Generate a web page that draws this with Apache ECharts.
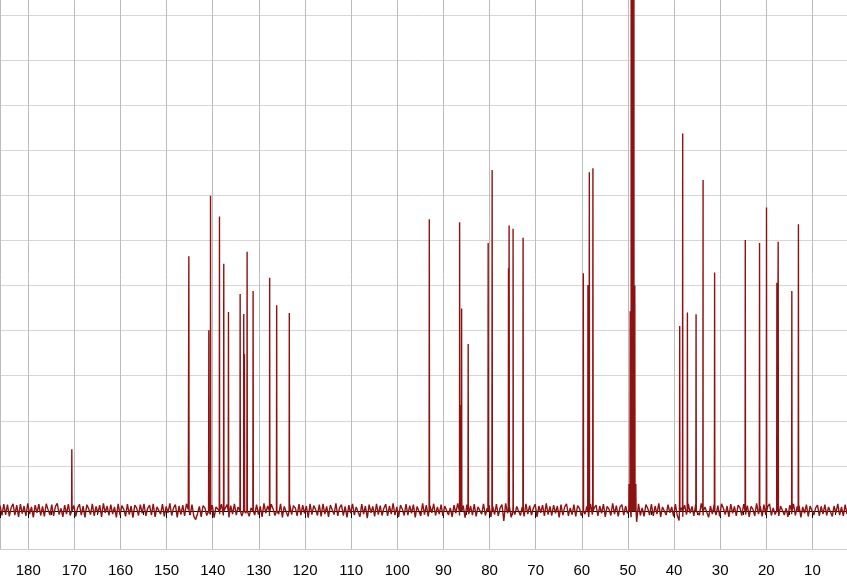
<!DOCTYPE html>
<html><head><meta charset="utf-8">
<script src="https://cdn.jsdelivr.net/npm/echarts@6/dist/echarts.min.js"></script>
<style>html,body{margin:0;padding:0;background:#fff}#c{width:847px;height:579px}</style>
</head><body><div id="c"></div>
<script>
// chemical shift axis (ppm), reversed
const ppmStart = 186.12;
const ppmEnd = 2.5;
const noiseStartPpm = 186.1;
const noiseStepPpm = 0.4;
const noise = [
.12,-.10,.15,-.08,.14,-.12,.07,.16,-.09,.13,-.13,.15,-.06,.11,-.11,.17,-.07,.09,-.14,.13,
-.04,.15,-.10,.10,-.12,.16,.03,-.09,.14,-.11,.10,.17,-.08,.06,-.13,.13,-.07,.15,-.10,.09,
.12,-.12,.07,.15,-.09,.11,-.14,.14,.05,-.08,.16,-.11,.10,-.05,.13,-.13,.17,-.04,.11,-.10,
.14,-.07,.09,-.14,.16,-.09,.12,.04,-.12,.15,-.08,.11,-.15,.13,.07,-.10,.14,-.05,.16,-.11,
.06,.13,-.09,.16,-.13,.09,.12,-.07,.15,-.12,.10,-.04,.17,-.10,.07,.14,-.14,.11,-.08,.13,
-.11,.16,.03,-.09,.14,-.12,-.19,-.06,.10,-.13,.12,.07,-.10,.15,-.08,.13,-.15,.09,.11,-.07,
.15,-.10,.06,.14,-.14,.12,-.07,.16,-.09,.09,.13,-.11,.11,-.05,.17,-.12,.07,.12,-.09,.14,
-.08,.10,-.13,.17,-.05,.11,-.11,.15,.04,-.10,.13,-.07,.16,-.14,.10,.06,-.12,.14,-.08,.12,
.07,-.11,.15,-.09,.13,-.05,.11,-.15,.16,-.08,.12,.03,-.10,.14,-.12,.16,-.07,.10,-.13,.13,
.11,-.08,.17,-.11,.07,.14,-.10,.10,-.14,.13,-.05,.16,-.09,.09,.12,-.13,.15,-.07,.11,-.16,
.14,-.04,.10,-.12,.16,-.08,.12,-.10,.06,.15,-.11,.11,-.07,.17,-.09,.09,-.13,.13,.04,-.10,
.15,-.09,.12,-.05,.14,-.14,.10,.07,-.11,.17,-.08,.13,-.12,.11,-.04,.16,-.10,.09,-.07,.14,
-.11,.11,.15,-.09,.07,-.13,.13,-.05,.17,-.10,.10,.12,-.15,.14,-.07,.11,-.09,.15,-.12,.09,
.12,-.07,.16,-.10,.06,.13,-.13,.10,-.08,.15,-.11,.07,.14,-.22,.17,-.05,.11,-.14,.13,-.08,
.10,.14,-.10,.09,-.12,.16,-.07,.12,-.09,.06,.15,-.13,.11,-.04,.13,-.11,.17,-.08,.10,-.10,
.13,-.05,.11,-.14,.14,-.09,.09,.16,-.11,.07,-.08,.14,-.12,.12,.06,-.10,.15,-.07,.10,-.13,
.16,-.08,.07,.13,-.11,.11,-.05,.15,-.13,.10,.04,-.10,.17,-.07,.12,-.12,.09,.14,-.09,.11,
-.05,.13,-.14,.10,.12,-.24,.16,-.10,.07,-.12,.14,.06,-.09,.15,-.11,.11,-.07,.17,-.13,.09,
.11,-.09,.14,-.04,.09,-.12,.15,-.10,-.21,.07,-.13,.13,-.08,.16,-.05,.10,-.11,.14,.03,-.09,
.17,-.10,.09,.13,-.14,.11,-.07,.14,-.09,.12,-.12,.16,.06,-.08,.11,-.13,.15,-.05,.10,-.11,
.13,.07,-.10,.15,-.08,.12,-.13,.10,.04,-.11,.17,-.07,.11,-.12,.14,-.09,.09,.16,-.10,.07,
-.08,.14,-.11,.11,.15,-.09,.06,-.13,.13,-.07,.16,-.10,.10,.12,-.14,.09,-.05,.14,-.12,.11,
.15,-.09,.07,.13,-.11,.10,-.07,.14,-.10,.09,.12,-.12,.11,-.05,.16,-.09,.09,-.11,.14,-.07
];
// peak positions (ppm) and heights (grid units)
const peakPpm = [170.55,145.18,140.85,140.48,138.54,137.61,136.59,134.06,133.28,133.13,132.55,131.25,127.66,126.14,123.40,
  93.05,86.48,86.27,86.05,84.62,80.29,79.43,75.88,75.75,74.89,72.72,
  59.66,58.66,58.36,57.58,49.75,49.50,49.28,49.00,48.72,48.50,48.28,
  38.77,38.12,37.10,35.22,33.70,31.20,24.55,21.46,19.95,17.70,17.42,14.46,13.03];
const peakHeight = [1.37,5.65,4.01,6.99,6.53,5.48,4.41,4.81,4.37,3.48,5.75,4.88,5.17,4.56,4.39,
  6.47,6.40,2.35,4.49,3.70,5.94,7.56,5.38,6.33,6.26,6.06,
  5.27,5.01,7.51,7.60,0.60,4.43,30,35,30,5.00,0.60,
  4.10,8.37,4.40,4.36,7.34,5.29,6.01,5.94,6.73,5.06,5.97,4.88,6.36];
const xTickLabels = ['180','170','160','150','140','130','120','110','100','90','80','70','60','50','40','30','20','10'];

const pts = [];
noise.forEach((v, i) => pts.push([noiseStartPpm - i * noiseStepPpm, v]));
peakPpm.forEach((p, i) => {
  pts.push([p + 0.05, 0]);
  pts.push([p, peakHeight[i]]);
  pts.push([p - 0.05, 0]);
});
pts.sort((a, b) => b[0] - a[0]);

const chart = echarts.init(document.getElementById('c'), null, {renderer: 'canvas'});
chart.setOption({
  backgroundColor: '#ffffff',
  animation: false,
  grid: [
    {left: -1, right: -1, top: 0, bottom: 30},
    {left: -1, right: -1, top: 15, bottom: 68}
  ],
  xAxis: [
    {
      gridIndex: 0, type: 'value', inverse: true, min: ppmEnd, max: ppmStart,
      splitNumber: 18, minInterval: 10, maxInterval: 10,
      position: 'bottom', offset: 4,
      axisLine: {show: true, lineStyle: {color: '#000', width: 1}},
      axisTick: {show: true, length: 7, lineStyle: {color: '#000'}},
      minorTick: {show: true, splitNumber: 2, length: 4, lineStyle: {color: '#000'}},
      axisLabel: {
        show: true, margin: 10, color: '#000', fontSize: 15,
        fontFamily: 'Liberation Sans, Arial, sans-serif',
        showMinLabel: false, showMaxLabel: false,
        formatter: v => xTickLabels.includes(String(v)) ? String(v) : ''
      },
      splitLine: {show: true, lineStyle: {color: '#bcbcbc', width: 1}}
    },
    {
      gridIndex: 0, type: 'value', inverse: true, min: ppmEnd, max: ppmStart,
      position: 'bottom', offset: 0,
      axisLine: {show: true, lineStyle: {color: '#d0d0d0', width: 1}},
      axisTick: {show: false}, axisLabel: {show: false}, splitLine: {show: false}
    },
    {gridIndex: 1, type: 'value', min: 0, max: 1, show: false}
  ],
  yAxis: [
    {gridIndex: 0, type: 'value', min: -0.843, max: 11.33, show: false},
    {
      gridIndex: 1, type: 'value', min: 0, max: 11, interval: 1,
      axisLine: {show: false}, axisTick: {show: false}, axisLabel: {show: false},
      splitLine: {show: true, lineStyle: {color: '#d6d6d6', width: 1}}
    }
  ],
  series: [{
    type: 'line', xAxisIndex: 0, yAxisIndex: 0, data: pts,
    showSymbol: false, symbol: 'none', clip: true,
    lineStyle: {color: '#8e1212', width: 1.4}
  }]
});
</script>
</body></html>
